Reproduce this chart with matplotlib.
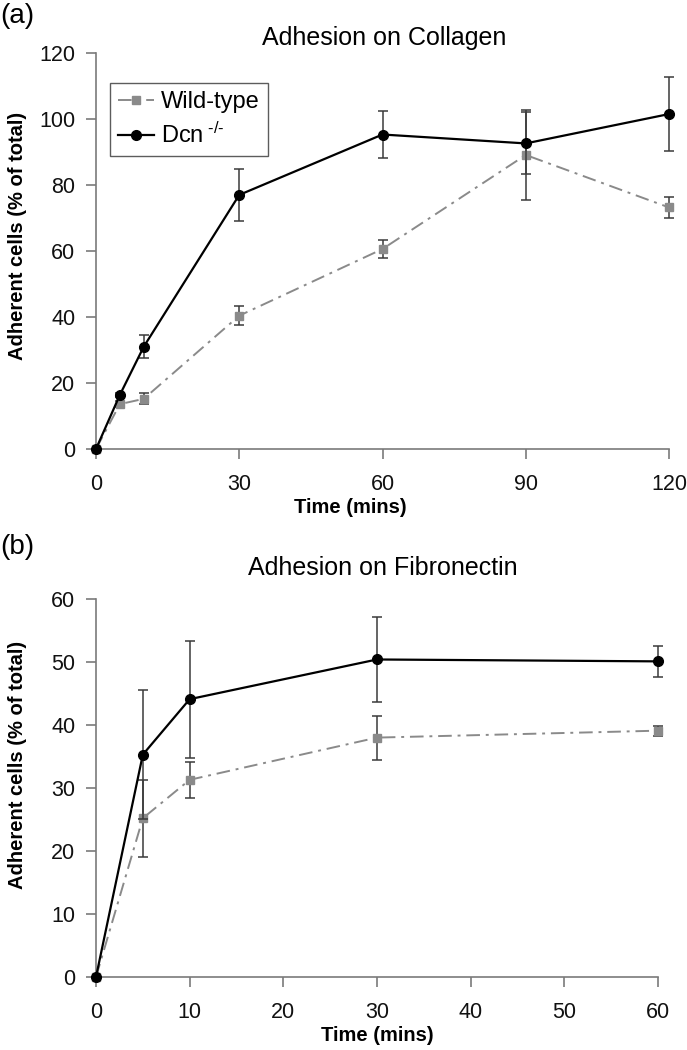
import matplotlib
matplotlib.use("Agg")
import matplotlib.pyplot as plt

plt.rcParams['font.family'] = ['Liberation Sans', 'DejaVu Sans']
plt.rcParams['mathtext.fontset'] = 'custom'
plt.rcParams['mathtext.rm'] = 'Liberation Sans'
plt.rcParams['mathtext.it'] = 'Liberation Sans:italic'
plt.rcParams['mathtext.bf'] = 'Liberation Sans:bold'

# Panel (a): Adhesion on Collagen
time_a = [0, 5, 10, 30, 60, 90, 120]
wt_a = [0, 13.6, 15.2, 40.4, 60.6, 89.1, 73.2]
wt_a_err = [0, 1.0, 1.7, 2.8, 2.7, 13.5, 3.2]
dcn_a = [0, 16.4, 31.0, 77.0, 95.3, 92.6, 101.5]
dcn_a_err = [0, 0.5, 3.5, 7.9, 7.0, 9.4, 11.3]

# Panel (b): Adhesion on Fibronectin
time_b = [0, 5, 10, 30, 60]
wt_b = [0, 25.2, 31.3, 38.0, 39.1]
wt_b_err = [0, 6.1, 2.9, 3.5, 0.8]
dcn_b = [0, 35.3, 44.1, 50.4, 50.1]
dcn_b_err = [0, 10.2, 9.3, 6.8, 2.5]

W, H = 687, 1050
fig = plt.figure(figsize=(W / 100, H / 100), dpi=100)

def box(l, r, t, b):
    return [l / W, 1 - b / H, (r - l) / W, (b - t) / H]

ax_a = fig.add_axes(box(96, 669, 53, 449))
ax_b = fig.add_axes(box(96, 658, 599, 977))

wt_color = '#8a8a8a'
err_color = '#3a3a3a'
spine_color = '#7a7a7a'

def draw(ax, t, wt, wte, dcn, dcne, xmax, xstep, ymax, ystep, xlab_x, ylab_x, ylab_y):
    ax.errorbar(t, wt, yerr=wte, color=wt_color, ecolor=err_color, elinewidth=1.1,
                capsize=3.5, capthick=1.1, linestyle=(0, (7, 3, 1.5, 3)), linewidth=1.4,
                marker='s', markersize=5.5, markeredgecolor=wt_color, label='Wild-type', zorder=2)
    ax.errorbar(t, dcn, yerr=dcne, color='black', ecolor=err_color, elinewidth=1.1,
                capsize=3.5, capthick=1.1, linestyle='-', linewidth=1.6,
                marker='o', markersize=7, label='Dcn$^{\\ \\text{-/-}}$', zorder=3)
    ax.set_xlim(0, xmax)
    ax.set_ylim(0, ymax)
    ax.set_xticks(range(0, xmax + 1, xstep))
    ax.set_yticks(range(0, ymax + 1, ystep))
    for s in ['top', 'right']:
        ax.spines[s].set_visible(False)
    for s in ['left', 'bottom']:
        ax.spines[s].set_color(spine_color)
        ax.spines[s].set_linewidth(1.2)
    ax.tick_params(axis='both', direction='out', length=7, width=1.2, color=spine_color,
                   labelsize=15.5)
    ax.tick_params(axis='x', pad=11)
    ax.tick_params(axis='y', pad=8)
    ax.set_xlabel('Time (mins)', fontsize=14.5, fontweight='bold', labelpad=2)
    ax.set_ylabel('Adherent cells (% of total)', fontsize=14.5, fontweight='bold')
    ax.xaxis.label.set_x(xlab_x)
    ax.yaxis.set_label_coords(ylab_x, ylab_y)
    for lbl in ax.get_xticklabels() + ax.get_yticklabels():
        lbl.set_color('#111111')

draw(ax_a, time_a, wt_a, wt_a_err, dcn_a, dcn_a_err, 120, 30, 120, 20,
     0.443, (27 - 96) / 573, 0.538)
draw(ax_b, time_b, wt_b, wt_b_err, dcn_b, dcn_b_err, 60, 10, 60, 10,
     0.5, (27 - 96) / 562, 0.561)

for ax in (ax_a, ax_b):
    for ln in ax.get_lines():
        ln.set_clip_on(False)
    for coll in ax.collections:
        coll.set_clip_on(False)

handles, labels = ax_a.get_legend_handles_labels()
leg = ax_a.legend([h[0] for h in handles], labels, loc='upper left',
                  bbox_to_anchor=(0.0244, 0.924), borderaxespad=0, fontsize=17,
                  frameon=True, fancybox=False, edgecolor='#333333', handlelength=1.5,
                  handletextpad=0.3, borderpad=0.35, labelspacing=0.4)
leg.get_frame().set_linewidth(1.0)

fig.text(384 / W, 1 - 38 / H, 'Adhesion on Collagen', fontsize=18, ha='center', va='center')
fig.text(383 / W, 1 - 568 / H, 'Adhesion on Fibronectin', fontsize=18, ha='center', va='center')
fig.text(0.0, 1 - 16 / H, '(a)', fontsize=20, va='center', ha='left')
fig.text(0.0, 1 - 547 / H, '(b)', fontsize=20, va='center', ha='left')

fig.savefig('out.png', dpi=100, facecolor='white')
